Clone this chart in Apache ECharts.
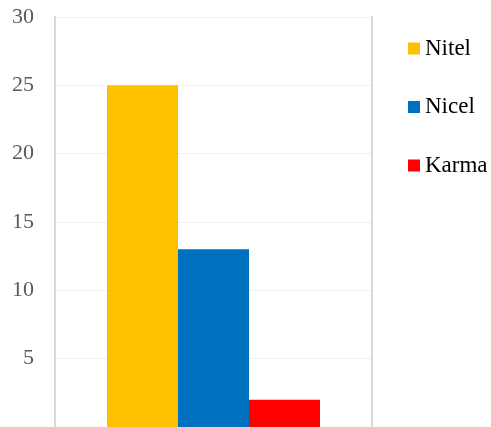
<!DOCTYPE html>
<html>
<head>
<meta charset="utf-8">
<script src="https://cdn.jsdelivr.net/npm/echarts@6/dist/echarts.min.js"></script>
<style>html,body{margin:0;padding:0;background:#fff}#c{width:491px;height:427px}</style>
</head>
<body>
<div id="c"></div>
<script>
const categories = [''];
const seriesNames = ['Nitel', 'Nicel', 'Karma'];
const nitel = [25];
const nicel = [13];
const karma = [2];
const seriesColors = ['#FFC000', '#0070C0', '#FF0000'];

const chart = echarts.init(document.getElementById('c'));
const values = [nitel, nicel, karma];
chart.setOption({
  animation: false,
  backgroundColor: '#ffffff',
  grid: { left: 55, right: 119, top: 17, bottom: 0, containLabel: false },
  legend: {
    orient: 'vertical',
    left: 408,
    top: 37,
    padding: 0,
    itemWidth: 12,
    itemHeight: 12,
    itemGap: 35.5,
    icon: 'rect',
    textStyle: { fontFamily: 'Liberation Serif', fontSize: 23, color: '#000', lineHeight: 23, padding: [0, 0, 0, 0] },
    data: seriesNames
  },
  xAxis: {
    type: 'category',
    data: categories,
    axisLine: { show: false },
    axisTick: { show: false },
    axisLabel: { show: false }
  },
  yAxis: [{
    type: 'value',
    min: 0, max: 30, interval: 5,
    axisLine: { show: true, lineStyle: { color: '#d9d9d9', width: 2 } },
    axisTick: { show: false },
    axisLabel: { showMinLabel: false, fontFamily: 'Liberation Serif', fontSize: 22, color: '#595959', margin: 21 },
    splitLine: { show: true, lineStyle: { color: '#f0f0f0', width: 1 } }
  }, {
    type: 'value',
    position: 'right',
    min: 0, max: 30, interval: 5,
    axisLine: { show: true, lineStyle: { color: '#d9d9d9', width: 2 } },
    axisTick: { show: false },
    axisLabel: { show: false },
    splitLine: { show: false }
  }],
  series: seriesNames.map((n, i) => ({
    name: n,
    type: 'bar',
    yAxisIndex: 0,
    data: values[i],
    barWidth: 71,
    barGap: '0%',
    itemStyle: { color: seriesColors[i] }
  }))
});
</script>
</body>
</html>
